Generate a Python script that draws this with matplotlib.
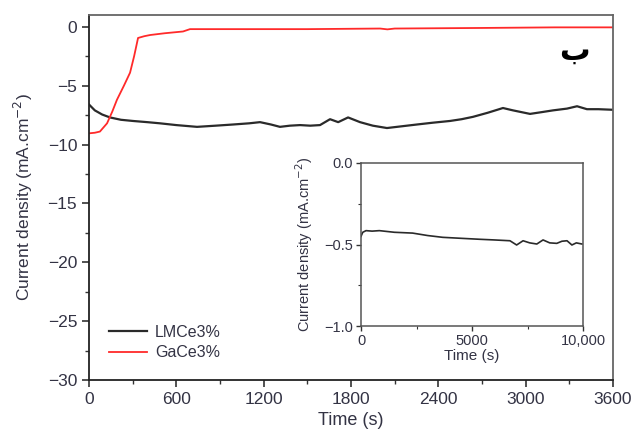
import numpy as np
import matplotlib
matplotlib.use('Agg')
import matplotlib.pyplot as plt
from matplotlib.ticker import MultipleLocator, FuncFormatter

plt.rcParams['font.family'] = ['Liberation Sans', 'DejaVu Sans']

# main chart data
lm_t = [0, 40, 90, 144, 220, 302, 400, 488, 600, 742, 870, 990, 1100, 1175, 1250, 1312,
        1380, 1450, 1520, 1587, 1656, 1712, 1780, 1862, 1950, 2047, 2150, 2253, 2360,
        2480, 2560, 2638, 2740, 2844, 2913, 3030, 3110, 3188, 3284, 3353, 3421, 3500, 3600]
lm_v = [-6.6, -7.1, -7.45, -7.7, -7.9, -8.0, -8.1, -8.2, -8.35, -8.5, -8.4, -8.3, -8.2,
        -8.1, -8.3, -8.5, -8.4, -8.35, -8.4, -8.35, -7.85, -8.1, -7.7, -8.1, -8.4, -8.6,
        -8.45, -8.3, -8.15, -8.0, -7.85, -7.65, -7.3, -6.9, -7.1, -7.4, -7.25, -7.1,
        -6.95, -6.75, -7.0, -7.0, -7.05]

ga_t = [0, 40, 75, 124, 160, 192, 240, 282, 310, 337, 380, 420, 520, 646, 694, 900,
        1500, 2000, 2050, 2100, 2700, 3200, 3600]
ga_v = [-9.05, -9.0, -8.9, -8.2, -7.2, -6.2, -5.0, -3.9, -2.5, -0.95, -0.8, -0.7, -0.55,
        -0.4, -0.2, -0.2, -0.2, -0.15, -0.22, -0.15, -0.1, -0.05, -0.05]

# inset data
in_t = [0, 80, 226, 500, 828, 1500, 2324, 3000, 3680, 4500, 5350, 6000, 6710, 7010,
        7300, 7600, 7920, 8200, 8500, 8820, 9050, 9280, 9500, 9700, 9950]
in_v = [-0.45, -0.425, -0.415, -0.418, -0.415, -0.425, -0.43, -0.445, -0.456, -0.462,
        -0.468, -0.472, -0.477, -0.503, -0.477, -0.49, -0.497, -0.472, -0.49, -0.493,
        -0.48, -0.477, -0.503, -0.49, -0.497]

xticks = [0, 600, 1200, 1800, 2400, 3000, 3600]
yticks = [0, -5, -10, -15, -20, -25, -30]

tcol = '#333344'

fig = plt.figure(figsize=(6.34, 4.37), dpi=100)
ax = fig.add_axes([89/634, 1 - 380/437, (613 - 89)/634, (380 - 15)/437])

ax.plot(lm_t, lm_v, color='#2a2a2a', lw=1.6, label='LMCe3%')
ax.plot(ga_t, ga_v, color='#ff2a2a', lw=1.3, label='GaCe3%')

ax.set_xlim(0, 3600)
ax.set_ylim(-30, 1.0)
ax.set_xticks(xticks)
ax.set_yticks(yticks)
ax.xaxis.set_minor_locator(MultipleLocator(300))
ax.yaxis.set_minor_locator(MultipleLocator(2.5))
ax.yaxis.set_major_formatter(FuncFormatter(lambda v, p: '%d' % v if v >= 0 else '\u2212%d' % -v))
ax.tick_params(which='major', direction='out', length=5, width=1.2, labelsize=12.5,
               colors='#333333', labelcolor=tcol)
ax.tick_params(which='minor', direction='out', length=3, width=1.0, colors='#333333')
for s in ['left', 'bottom']:
    ax.spines[s].set_color('#222222')
    ax.spines[s].set_linewidth(1.3)
for s in ['top', 'right']:
    ax.spines[s].set_color('#666666')
    ax.spines[s].set_linewidth(1.3)

ax.set_xlabel('Time (s)', fontsize=13, color=tcol, labelpad=4)
ax.set_ylabel('Current density (mA.cm$^{-2}$)', fontsize=12.5, color=tcol, labelpad=9)

leg = ax.legend(loc='lower left', bbox_to_anchor=(0.01, 0.015), frameon=False, fontsize=11.5,
                handlelength=2.4, handletextpad=0.5, labelspacing=0.35)
for t in leg.get_texts():
    t.set_color(tcol)

ax.text(0.955, 0.9, '\u0628', transform=ax.transAxes, fontsize=22, fontweight='bold',
        family=['DejaVu Sans'], ha='right', va='center', color='black')

# inset
ins = fig.add_axes([361/634, 1 - 326/437, (583 - 361)/634, (326 - 163)/437])
ins.plot(in_t, in_v, color='#2a2a2a', lw=1.2)
ins.set_xlim(0, 10000)
ins.set_ylim(-1.0, 0.0)
ins.set_xticks([0, 5000, 10000])
ins.set_xticklabels(['0', '5000', '10,000'])
ins.set_yticks([0.0, -0.5, -1.0])
ins.set_yticklabels(['0.0', '\u22120.5', '\u22121.0'])
ins.xaxis.set_minor_locator(MultipleLocator(2500))
ins.yaxis.set_minor_locator(MultipleLocator(0.25))
ins.tick_params(which='major', direction='out', length=3.5, width=1.0, labelsize=10.5,
                colors='#333333', labelcolor=tcol, pad=2)
ins.tick_params(which='minor', direction='out', length=2, width=0.8, colors='#333333')
for s in ins.spines.values():
    s.set_color('#555555')
    s.set_linewidth(1.1)
ins.set_xlabel('Time (s)', fontsize=11, color=tcol, labelpad=1)
ins.set_ylabel('Current density (mA.cm$^{-2}$)', fontsize=10.5, color=tcol, labelpad=7)

fig.savefig('out.png', dpi=100)
